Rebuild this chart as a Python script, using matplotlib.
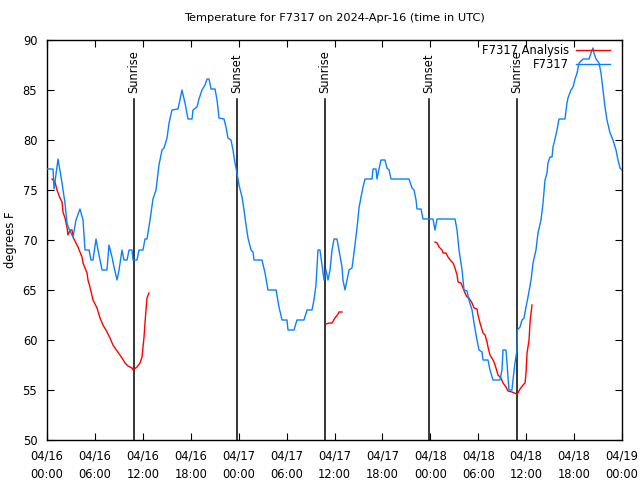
import matplotlib
matplotlib.use("Agg")
import matplotlib.pyplot as plt

# hours since 04/16 00:00 UTC
obs_hours = [0.0, 0.75, 0.88, 1.38, 1.88, 2.25, 2.5, 2.75, 3.26, 3.63, 4.13, 4.51, 4.76, 5.26,
             5.51, 5.76, 6.14, 6.39, 6.89, 7.51, 7.76, 8.14, 8.39, 8.77, 9.02, 9.39, 9.64, 10.02,
             10.27, 10.64, 10.77, 11.27, 11.52, 12.02, 12.27, 12.52, 12.9, 13.27, 13.65, 14.02,
             14.4, 14.65, 15.03, 15.28, 15.65, 16.4, 16.65, 16.9, 17.28, 17.66, 18.16, 18.28,
             18.78, 19.03, 19.41, 19.78, 20.04, 20.29, 20.54, 21.04, 21.29, 21.54, 22.16, 22.41,
             22.66, 23.04, 23.29, 23.54, 23.79, 24.04, 24.42, 24.67, 24.92, 25.17, 25.55, 25.8,
             25.92, 26.92, 27.3, 27.67, 28.68, 29.05, 29.43, 30.05, 30.18, 30.93, 31.3, 32.18,
             32.56, 33.18, 33.43, 33.68, 33.93, 34.18, 34.44, 34.69, 34.94, 35.19, 35.44, 35.69,
             35.94, 36.31, 36.56, 36.94, 37.06, 37.32, 37.57, 37.82, 38.19, 38.44, 38.82, 39.07,
             39.32, 39.57, 39.82, 40.7, 40.82, 41.2, 41.32, 41.57, 41.82, 42.32, 42.57, 42.83,
             43.08, 45.33, 45.71, 45.96, 46.21, 46.33, 46.83, 47.08, 48.33, 48.58, 48.84, 51.09,
             51.34, 51.59, 51.97, 52.22, 52.59, 52.84, 53.22, 53.47, 53.84, 54.1, 54.47, 54.6,
             55.22, 55.47, 55.85, 56.72, 56.97, 57.1, 57.47, 57.6, 57.72, 57.85, 58.22, 58.35,
             58.6, 58.85, 58.9, 59.23, 59.48, 59.73, 59.98, 60.23, 60.61, 60.86, 61.23, 61.48,
             61.86, 62.11, 62.36, 62.61, 62.73, 62.99, 63.24, 63.36, 63.61, 63.86, 64.11, 64.86,
             65.11, 65.24, 65.61, 65.87, 66.12, 66.37, 66.62, 67.12, 67.87, 68.12, 68.37, 68.49,
             68.75, 69.12, 69.37, 69.62, 69.87, 70.12, 70.5, 70.87, 71.25, 71.5, 71.75, 72.0]
obs_temp = [77.1, 77.1, 75.1, 78.1, 75.7, 73.7, 71.7, 71.1, 70.3, 72.0, 73.1, 72.0, 69.0, 69.0,
            68.0, 68.0, 70.1, 69.0, 67.0, 67.0, 69.5, 68.3, 67.3, 66.0, 67.0, 69.0, 68.0, 68.0,
            69.0, 69.0, 68.0, 68.0, 69.0, 69.0, 70.1, 70.1, 72.0, 74.1, 75.0, 77.5,
            79.0, 79.2, 80.2, 81.7, 83.0, 83.1, 84.0, 85.0, 83.7, 82.1, 82.1, 83.0,
            83.3, 84.1, 85.0, 85.5, 86.1, 86.1, 85.1, 85.1, 84.0, 82.2, 82.1, 81.3,
            80.2, 80.0, 79.0, 77.7, 76.7, 75.5, 74.3, 73.0, 71.5, 70.2, 69.0, 68.8,
            68.0, 68.0, 66.7, 65.0, 65.0, 63.3, 62.0, 62.0, 61.0, 61.0, 62.0, 62.0,
            63.0, 63.0, 64.0, 65.5, 69.0, 69.0, 67.5, 66.0, 67.0, 66.0, 67.0, 69.0,
            70.1, 70.1, 69.0, 67.3, 66.0, 65.0, 66.0, 67.0, 67.2, 68.7, 71.2, 73.2,
            74.3, 75.3, 76.1, 76.1, 77.1, 77.1, 76.1, 77.1, 78.0, 78.0, 77.2, 77.0,
            76.1, 76.1, 75.2, 75.0, 74.0, 73.1, 73.1, 72.1, 72.1, 71.0, 72.1, 72.1,
            71.0, 69.0, 67.0, 65.0, 64.9, 64.0, 63.0, 61.7, 60.0, 59.0, 58.8, 58.0,
            58.0, 57.0, 56.0, 56.0, 57.0, 59.0, 59.0, 57.7, 56.3, 55.0, 55.0, 56.0,
            57.7, 59.0, 61.0, 61.3, 62.0, 62.2, 63.3, 64.3, 66.0, 67.7, 69.0, 70.7,
            72.0, 73.7, 76.0, 76.7, 77.7, 78.3, 78.3, 79.3, 80.1, 81.0, 82.1, 82.1,
            83.7, 84.2, 85.0, 85.3, 86.1, 86.7, 87.7, 88.1, 88.1, 88.7, 89.2, 88.7,
            88.1, 87.7, 86.7, 85.0, 83.3, 82.0, 80.7, 80.0, 79.0, 78.0, 77.2, 77.0]

# analysis runs (three separate pieces)
ana1_hours = [0.63, 1.0, 1.25, 1.63, 1.88, 2.0, 2.25, 2.5, 2.63, 2.88, 3.13, 3.26, 3.63, 3.88,
              4.13, 4.38, 4.51, 4.76, 5.01, 5.13, 5.38, 5.76, 6.26, 6.64, 7.01, 7.51, 7.89,
              8.26, 8.77, 9.39, 9.77, 10.14, 10.64, 10.77, 11.27, 11.64, 11.9, 12.02, 12.15,
              12.27, 12.4, 12.52, 12.77]
ana1_temp = [76.1, 75.8, 75.0, 74.2, 73.8, 72.8, 72.2, 71.3, 70.5, 71.0, 71.0, 70.3, 69.7, 69.3,
             68.8, 68.3, 67.7, 67.2, 66.7, 66.0, 65.3, 64.0, 63.2, 62.2, 61.5, 60.8, 60.2,
             59.5, 58.9, 58.2, 57.7, 57.4, 57.2, 57.0, 57.3, 57.7, 58.3, 59.3, 60.3,
             61.7, 63.0, 64.2, 64.7]
ana2_hours = [34.94, 35.32, 35.69, 36.06, 36.44, 36.56, 36.94]
ana2_temp = [61.6, 61.7, 61.7, 62.2, 62.6, 62.8, 62.8]
ana3_hours = [48.58, 48.84, 49.09, 49.46, 49.59, 49.96, 50.21, 50.59, 50.84, 51.09, 51.34, 51.47,
              51.84, 52.09, 52.34, 52.59, 52.84, 53.22, 53.47, 53.84, 53.97, 54.22, 54.6, 54.85,
              55.1, 55.22, 55.47, 55.85, 55.97, 56.22, 56.47, 56.85, 57.1, 57.47, 57.72, 58.22,
              58.85, 58.97, 59.23, 59.61, 59.86, 59.98, 60.11, 60.36, 60.48, 60.61, 60.73]
ana3_temp = [69.8, 69.7, 69.3, 69.0, 68.7, 68.7, 68.3, 67.9, 67.7, 67.2, 66.5, 65.8,
             65.7, 65.2, 64.7, 64.3, 64.2, 63.7, 63.2, 63.1, 62.5, 61.7, 60.7, 60.5,
             59.8, 59.3, 58.5, 58.0, 57.8, 57.2, 56.5, 56.2, 55.7, 55.3, 54.9, 54.8,
             54.6, 54.7, 55.1, 55.5, 55.7, 56.7, 58.7, 60.0, 61.7, 62.7, 63.5]

sun_hours = [10.89, 23.79, 34.81, 47.83, 58.85]
sun_labels = ["Sunrise", "Sunset", "Sunrise", "Sunset", "Sunrise"]

tick_hours = list(range(0, 73, 6))
tick_labels = ["04/16\n00:00", "04/16\n06:00", "04/16\n12:00", "04/16\n18:00",
               "04/17\n00:00", "04/17\n06:00", "04/17\n12:00", "04/17\n18:00",
               "04/18\n00:00", "04/18\n06:00", "04/18\n12:00", "04/18\n18:00",
               "04/19\n00:00"]

plt.rcParams['font.family'] = ['DejaVu Sans']
plt.rcParams['font.size'] = 8.3

fig = plt.figure(figsize=(6.4, 4.8), dpi=100)
ax = fig.add_axes([47 / 640, 40 / 480, 575 / 640, 400 / 480])

for h, lab in zip(sun_hours, sun_labels):
    ax.plot([h, h], [50, 84.1], color='black', lw=1.1, zorder=1)
    ax.text(h, 84.7, lab, rotation=90, ha='center', va='bottom')

red = '#ff0000'
blue = '#0a80ff'
ax.plot(ana1_hours, ana1_temp, color=red, lw=1, label='F7317 Analysis', zorder=2)
ax.plot(ana2_hours, ana2_temp, color=red, lw=1, zorder=2)
ax.plot(ana3_hours, ana3_temp, color=red, lw=1, zorder=2)
ax.plot(obs_hours, obs_temp, color=blue, lw=1, label='F7317', zorder=3)

ax.set_xlim(0, 72)
ax.set_ylim(50, 90)
ax.set_xticks(tick_hours)
ax.set_xticklabels(tick_labels, linespacing=1.5)
ax.set_yticks(range(50, 91, 5))
ax.tick_params(direction='in', length=5, width=0.8, top=True, right=True, pad=7)
for s in ax.spines.values():
    s.set_linewidth(1)

ax.set_ylabel('degrees F')
ax.yaxis.set_label_coords(-0.052, 0.5)
ax.set_title('Temperature for F7317 on 2024-Apr-16 (time in UTC)', pad=14, fontsize=8.2)

ax.legend(loc='upper right', bbox_to_anchor=(0.99, 1.005), frameon=False, markerfirst=False,
          handlelength=3.0, borderaxespad=0.1, labelspacing=0.1, handletextpad=0.6)

fig.savefig('out.png', dpi=100)
